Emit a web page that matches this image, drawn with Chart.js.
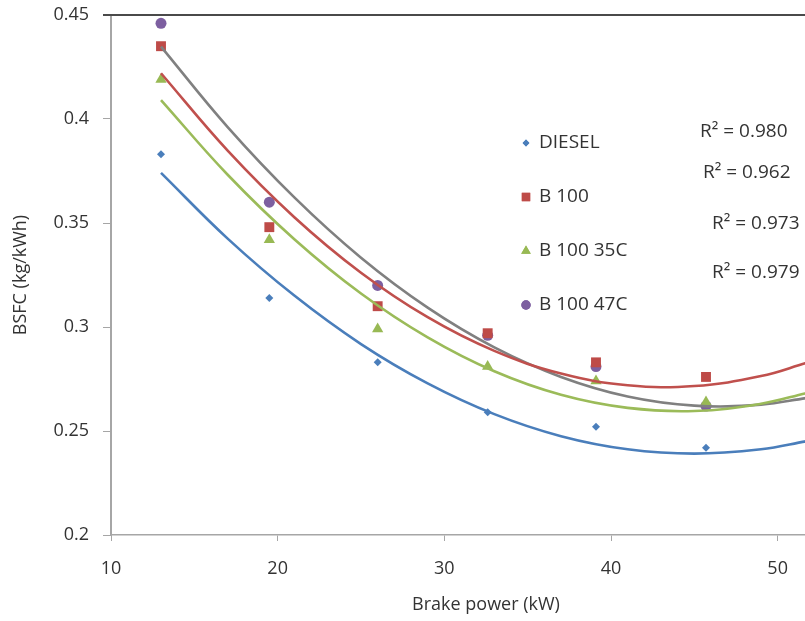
<!DOCTYPE html>
<html>
<head>
<meta charset="utf-8">
<script src="https://cdn.jsdelivr.net/npm/chart.js@4.4.1/dist/chart.umd.min.js"></script>
<style>
  html, body { margin: 0; padding: 0; background: #ffffff; overflow: hidden; }
  #wrap { width: 805px; height: 621px; overflow: hidden; }
</style>
</head>
<body>
<div id="wrap"><canvas id="bsfcChart" width="861" height="621"></canvas></div>
<script>
// ---- data ----
const powerKW = [13.0, 19.5, 26.0, 32.6, 39.1, 45.7];
const diesel = [0.383, 0.314, 0.283, 0.259, 0.252, 0.242];
const b100 = [0.435, 0.348, 0.310, 0.297, 0.283, 0.276];
const b100_35C = [0.419, 0.342, 0.299, 0.281, 0.274, 0.264];
const b100_47C = [0.446, 0.360, 0.320, 0.296, 0.281, 0.262];

// trend lines (2nd order poly in the original)
const trendKW = [13, 17, 21, 25, 29, 33, 37, 41, 45, 49, 51.7];
const trendDiesel = [0.3741, 0.3425, 0.3151, 0.2918, 0.2729, 0.2581, 0.2475, 0.2412, 0.2391, 0.2412, 0.2450];
const trendB100 = [0.4220, 0.3848, 0.3528, 0.3261, 0.3047, 0.2885, 0.2776, 0.2720, 0.2716, 0.2764, 0.2827];
const trend35C = [0.4091, 0.3732, 0.3422, 0.3161, 0.2950, 0.2787, 0.2674, 0.2611, 0.2596, 0.2631, 0.2682];
const trend47C = [0.4348, 0.3961, 0.3623, 0.3333, 0.3093, 0.2902, 0.2760, 0.2666, 0.2622, 0.2627, 0.2658];

const seriesNames = ["DIESEL", "B 100", "B 100 35C", "B 100 47C"];
const rSquared = ["0.980", "0.962", "0.973", "0.979"];

const xTicks = [10, 20, 30, 40, 50];
const yTicks = [0.2, 0.25, 0.3, 0.35, 0.4, 0.45];

const FONT = "'Open Sans', 'Noto Sans', sans-serif";
const TEXT = "#333333";
const AXIS = "#a6a6a6";

function pts(xs, ys) {
    let out = [];
    for (let i = 0; i < xs.length; i++) out.push({ x: xs[i], y: ys[i] });
    return out;
}

function pointSet(label, ys, m) {
    return {
        type: "scatter",
        label: label,
        data: pts(powerKW, ys),
        pointStyle: m.style,
        pointRadius: m.radius,
        pointBackgroundColor: m.color,
        pointBorderColor: m.color,
        pointBorderWidth: 0,
        order: 2
    };
}

function trendSet(ys, color) {
    return {
        type: "line",
        label: "trend",
        data: pts(trendKW, ys),
        borderColor: color,
        borderWidth: 2.6,
        pointRadius: 0,
        tension: 0.4,
        fill: false,
        order: 1
    };
}

const markers = [
    { color: "#4a7ebb", style: "rectRot", radius: 4 },
    { color: "#be4b48", style: "rect", radius: 7 },
    { color: "#98b954", style: "triangle", radius: 6.5 },
    { color: "#7d5fa0", style: "circle", radius: 5.5 }
];

// legend + R² labels + top border line
const extras = {
    id: "extras",
    afterDraw(chart) {
        const ctx = chart.ctx;
        const area = chart.chartArea;
        ctx.save();

        ctx.strokeStyle = "#4a4a4a";
        ctx.lineWidth = 2;
        ctx.beginPath();
        ctx.moveTo(area.left - 8, area.top);
        ctx.lineTo(area.right, area.top);
        ctx.stroke();

        ctx.font = "19px " + FONT;
        ctx.textBaseline = "middle";
        ctx.textAlign = "left";
        for (let i = 0; i < seriesNames.length; i++) {
            let y = 143 + i * 54;
            ctx.fillStyle = markers[i].color;
            Chart.helpers.drawPoint(ctx, {
                pointStyle: markers[i].style,
                radius: markers[i].radius * 0.85,
                borderWidth: 0,
                rotation: 0
            }, 526, y);
            ctx.fill();
            ctx.fillStyle = TEXT;
            ctx.fillText(seriesNames[i], 539, y);
        }

        const rx = [700, 703, 712, 712];
        const ry = [132, 173, 224, 273];
        for (let i = 0; i < rSquared.length; i++) {
            ctx.fillText("R\u00b2 = " + rSquared[i], rx[i], ry[i]);
        }
        ctx.restore();
    }
};

const ctx = document.getElementById("bsfcChart").getContext("2d");

new Chart(ctx, {
    data: {
        datasets: [
            trendSet(trendDiesel, "#4a7ebb"),
            trendSet(trendB100, "#c0504d"),
            trendSet(trend35C, "#9bbb59"),
            trendSet(trend47C, "#808080"),
            pointSet(seriesNames[0], diesel, markers[0]),
            pointSet(seriesNames[1], b100, markers[1]),
            pointSet(seriesNames[2], b100_35C, markers[2]),
            pointSet(seriesNames[3], b100_47C, markers[3])
        ]
    },
    options: {
        responsive: false,
        animation: false,
        layout: { autoPadding: false, padding: { top: 15, left: 0, right: 0, bottom: 0 } },
        plugins: {
            legend: { display: false },
            tooltip: { enabled: false }
        },
        scales: {
            x: {
                type: "linear",
                min: 10,
                max: 55,
                afterBuildTicks: function (s) { s.ticks = xTicks.map(v => ({ value: v })); },
                afterFit: function (s) { s.height = 86; },
                grid: { drawOnChartArea: false, drawTicks: true, tickLength: 6, tickColor: AXIS },
                border: { color: AXIS, width: 1.5 },
                ticks: {
                    font: { family: FONT, size: 18 }, color: TEXT, padding: 17,
                    callback: v => String(v)
                },
                title: {
                    display: true,
                    text: "Brake power (kW)",
                    font: { family: FONT, size: 18 },
                    color: TEXT,
                    padding: { top: 0, bottom: 5 }
                }
            },
            y: {
                type: "linear",
                min: 0.2,
                max: 0.45,
                afterBuildTicks: function (s) { s.ticks = yTicks.map(v => ({ value: v })); },
                afterFit: function (s) {
                    s.width = 111;
                    s.paddingTop = 0;
                    s.paddingBottom = 0;
                },
                grid: { drawOnChartArea: false, drawTicks: true, tickLength: 8, tickColor: AXIS },
                border: { color: AXIS, width: 2 },
                ticks: {
                    font: { family: FONT, size: 18 }, color: TEXT, padding: 14,
                    callback: v => String(v)
                },
                title: {
                    display: true,
                    text: "BSFC (kg/kWh)",
                    font: { family: FONT, size: 18 },
                    color: TEXT,
                    padding: { top: 10, bottom: 0 }
                }
            }
        }
    },
    plugins: [extras]
});
</script>
</body>
</html>
